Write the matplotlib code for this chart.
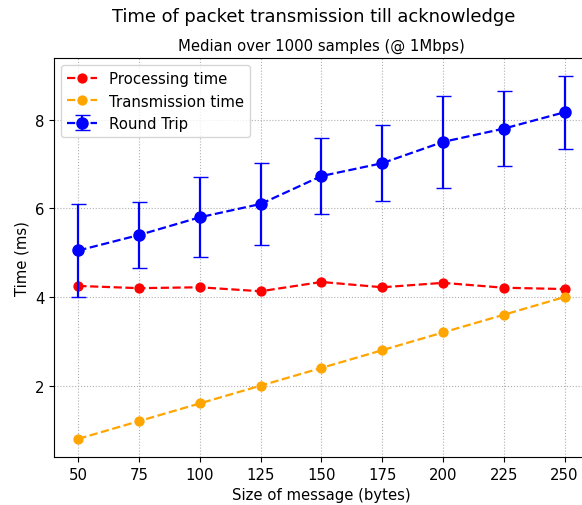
import matplotlib
matplotlib.use("Agg")
import matplotlib.pyplot as plt

# message sizes in bytes
sizes = [50, 75, 100, 125, 150, 175, 200, 225, 250]

# median times in ms
processing = [4.25, 4.20, 4.22, 4.13, 4.34, 4.22, 4.32, 4.21, 4.18]
transmission = [0.8, 1.2, 1.6, 2.0, 2.4, 2.8, 3.2, 3.6, 4.0]
round_trip = [5.05, 5.40, 5.80, 6.10, 6.73, 7.02, 7.50, 7.80, 8.17]
round_trip_err = [1.05, 0.74, 0.90, 0.92, 0.85, 0.86, 1.03, 0.84, 0.82]

plt.rcParams['font.size'] = 10.75

fig = plt.figure(figsize=(5.82, 5.06), dpi=100)
# the original figure is cut on the right, so the axes run past the edge
ax = fig.add_axes([0.0928, 0.0949, 0.919, 0.789])

ax.plot(sizes, processing, "o--", color="red", markersize=6.4, linewidth=1.6,
        label="Processing time")
ax.plot(sizes, transmission, "o--", color="orange", markersize=6.4, linewidth=1.6,
        label="Transmission time")
ax.errorbar(sizes, round_trip, yerr=round_trip_err, fmt="o--", color="blue",
            markersize=8, linewidth=1.6, capsize=5.4, label="Round Trip")

ax.set_xticks(sizes)
ax.set_xlabel("Size of message (bytes)")
ax.set_ylabel("Time (ms)")
ax.set_title("Median over 1000 samples (@ 1Mbps)", fontsize=10.75)
fig.suptitle("Time of packet transmission till acknowledge", fontsize=12.9,
             x=0.539, y=0.985)
ax.grid(True, linestyle=":")
ax.legend(loc="upper left")

fig.savefig("out.png", dpi=100)
